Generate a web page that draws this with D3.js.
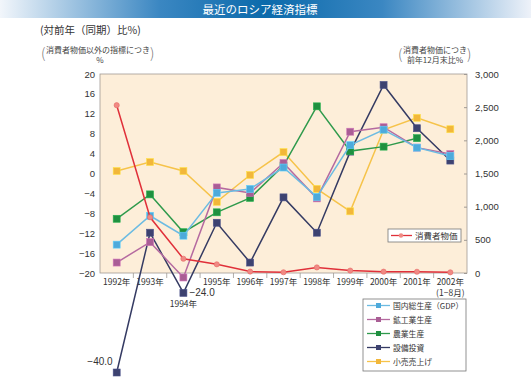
<!DOCTYPE html>
<html>
<head>
<meta charset="utf-8">
<script src="https://cdn.jsdelivr.net/npm/d3@7"></script>
<style>
body { margin: 0; background: #fff; }
svg { display: block; font-family: "Noto Sans CJK JP", "Noto Sans", sans-serif; }
</style>
</head>
<body>
<svg width="531" height="387"></svg>
<script>
var years = ["1992", "1993", "1994", "1995", "1996", "1997", "1998", "1999", "2000", "2001", "2002"];
var yearLabels = ["1992年", "1993年", "1994年", "1995年", "1996年", "1997年", "1998年", "1999年", "2000年", "2001年", "2002年"];
var leftTicks = [-20, -16, -12, -8, -4, 0, 4, 8, 12, 16, 20];
var rightTicks = [0, 500, 1000, 1500, 2000, 2500, 3000];

// 消費者物価 (右軸)
var cpi = [2530, 840, 215, 131, 21.8, 11, 84.4, 36.5, 20.2, 18.6, 10];
// 左軸
var gdp = [-14.3, -8.5, -12.5, -3.9, -3.1, 1.2, -4.7, 5.7, 8.8, 5.2, 3.5];
var industry = [-17.9, -13.8, -20.9, -2.8, -3.9, 2.1, -5.0, 8.4, 9.3, 5.2, 3.9];
var agriculture = [-9.1, -4.2, -11.8, -7.8, -4.9, 1.6, 13.5, 4.5, 5.4, 7.1, null];
var investment = [-40.0, -11.9, -24.0, -9.9, -17.9, -4.8, -11.9, 4.4, 17.8, 9.1, 2.6];
var retail = [0.5, 2.3, 0.5, -5.7, -0.3, 4.3, -3.1, -7.6, 8.8, 11.2, 8.9];

var svg = d3.select("svg");
var plotLeft = 100, plotRight = 467, plotTop = 74, plotBottom = 273;

// title bar
var defs = svg.append("defs");
var grad = defs.append("linearGradient").attr("id", "bar");
grad.append("stop").attr("offset", "0%").attr("stop-color", "#f2f6fb");
grad.append("stop").attr("offset", "30%").attr("stop-color", "#3b87c2");
grad.append("stop").attr("offset", "50%").attr("stop-color", "#0b6aab");
grad.append("stop").attr("offset", "72%").attr("stop-color", "#3b87c2");
grad.append("stop").attr("offset", "100%").attr("stop-color", "#eef2f9");
svg.append("rect").attr("x", 0).attr("y", 0).attr("width", 531).attr("height", 18).attr("fill", "url(#bar)");
svg.append("text").attr("x", 260).attr("y", 13.5).attr("text-anchor", "middle")
    .attr("fill", "#fff").attr("font-size", 11.5).text("最近のロシア経済指標");

svg.append("text").attr("x", 40).attr("y", 34).attr("font-size", 10.5).attr("fill", "#333").text("(対前年（同期）比%)");
svg.append("text").attr("x", 46).attr("y", 53).attr("font-size", 8).attr("fill", "#444").text("消費者物価以外の指標につき");
svg.append("text").attr("x", 100).attr("y", 63).attr("font-size", 8).attr("fill", "#444").attr("text-anchor", "middle").text("%");
svg.append("text").attr("x", 41).attr("y", 58).attr("font-size", 14).attr("fill", "#777").attr("font-weight", 200).text("(");
svg.append("text").attr("x", 150).attr("y", 58).attr("font-size", 14).attr("fill", "#777").attr("font-weight", 200).text(")");
svg.append("text").attr("x", 435).attr("y", 53).attr("font-size", 8).attr("fill", "#444").attr("text-anchor", "middle").text("消費者物価につき");
svg.append("text").attr("x", 435).attr("y", 63).attr("font-size", 8).attr("fill", "#444").attr("text-anchor", "middle").text("前年12月末比%");
svg.append("text").attr("x", 398).attr("y", 59).attr("font-size", 14).attr("fill", "#777").attr("font-weight", 200).text("(");
svg.append("text").attr("x", 467).attr("y", 59).attr("font-size", 14).attr("fill", "#777").attr("font-weight", 200).text(")");

var x = d3.scalePoint().domain(years).range([plotLeft, plotRight]).padding(0.5);
var y = d3.scaleLinear().domain([-20, 20]).range([plotBottom, plotTop]);
var yr = d3.scaleLinear().domain([0, 3000]).range([plotBottom, plotTop]);
var step = x.step();

svg.append("rect").attr("x", plotLeft).attr("y", plotTop).attr("width", plotRight - plotLeft).attr("height", plotBottom - plotTop)
    .attr("fill", "#fdeed9").attr("stroke", "#a09a94").attr("stroke-width", 0.8);

function fmt(d) { return (d < 0 ? "−" : "") + Math.abs(d); }

var gl = svg.append("g").attr("transform", "translate(" + plotLeft + ",0)")
    .call(d3.axisLeft(y).tickValues(leftTicks).tickSize(0).tickPadding(5).tickFormat(fmt));
gl.select(".domain").remove();
gl.selectAll("text").attr("font-size", 9.5).attr("fill", "#333").attr("font-family", "Liberation Sans, sans-serif");

var gr = svg.append("g").attr("transform", "translate(" + plotRight + ",0)")
    .call(d3.axisRight(yr).tickValues(rightTicks).tickSize(-3).tickPadding(8).tickFormat(d3.format(",")));
gr.select(".domain").remove();
gr.selectAll("line").attr("stroke", "#a09a94");
gr.selectAll("text").attr("font-size", 9.5).attr("fill", "#333").attr("font-family", "Liberation Sans, sans-serif");

// x ticks at category boundaries
svg.append("g").selectAll("line").data(years.slice(1)).enter().append("line")
    .attr("x1", function (d) { return x(d) - step / 2; })
    .attr("x2", function (d) { return x(d) - step / 2; })
    .attr("y1", plotBottom).attr("y2", plotBottom + 5)
    .attr("stroke", "#a09a94").attr("stroke-width", 0.8);

svg.append("g").selectAll("text").data(years).enter().append("text")
    .attr("x", function (d) { return x(d); })
    .attr("y", function (d) { return d === "1994" ? 307 : 285; })
    .attr("text-anchor", "middle").attr("font-size", 8.5).attr("fill", "#333")
    .text(function (d, i) { return yearLabels[i]; });
svg.append("text").attr("x", x("2002")).attr("y", 296).attr("text-anchor", "middle")
    .attr("font-size", 8.5).attr("fill", "#333").text("(1−8月)");

var series = [
    { name: "小売売上げ", values: retail, line: "#f6c34a", fill: "#f2b73a" },
    { name: "設備投資", values: investment, line: "#353b63", fill: "#3d4270" },
    { name: "農業生産", values: agriculture, line: "#2f9a4c", fill: "#1f9040" },
    { name: "鉱工業生産", values: industry, line: "#b56aa0", fill: "#a95e95" },
    { name: "国内総生産（GDP）", values: gdp, line: "#6cbbe2", fill: "#4eaadb" }
];

var line = d3.line()
    .defined(function (d) { return d.v !== null; })
    .x(function (d) { return x(d.year); })
    .y(function (d) { return y(d.v); });

series.forEach(function (s) {
    var pts = years.map(function (yv, i) { return { year: yv, v: s.values[i] }; });
    svg.append("path").datum(pts).attr("d", line).attr("fill", "none")
        .attr("stroke", s.line).attr("stroke-width", 1.5);
    svg.append("g").selectAll("rect").data(pts.filter(function (d) { return d.v !== null; }))
        .enter().append("rect")
        .attr("x", function (d) { return x(d.year) - 3.5; })
        .attr("y", function (d) { return y(d.v) - 3.5; })
        .attr("width", 7).attr("height", 7)
        .attr("fill", s.fill).attr("stroke", d3.color(s.fill).brighter(0.6)).attr("stroke-width", 0.6);
});

// CPI
var cpiPts = years.map(function (yv, i) { return { year: yv, v: cpi[i] }; });
svg.append("path").datum(cpiPts)
    .attr("d", d3.line().x(function (d) { return x(d.year); }).y(function (d) { return yr(d.v); }))
    .attr("fill", "none").attr("stroke", "#e0303a").attr("stroke-width", 1.5);
svg.append("g").selectAll("circle").data(cpiPts).enter().append("circle")
    .attr("cx", function (d) { return x(d.year); })
    .attr("cy", function (d) { return yr(d.v); })
    .attr("r", 2.6).attr("fill", "#f08a84").attr("stroke", "#e86a66").attr("stroke-width", 0.6);

// value labels for off-scale points
svg.append("text").attr("x", x("1992") - 4).attr("y", y(-40) - 8).attr("text-anchor", "end")
    .attr("font-size", 10).attr("fill", "#333").attr("font-family", "Liberation Sans, sans-serif").text("−40.0");
svg.append("text").attr("x", x("1994") + 6).attr("y", y(-24) + 3.5)
    .attr("font-size", 10).attr("fill", "#333").attr("font-family", "Liberation Sans, sans-serif").text("−24.0");

// CPI legend
var lg1 = svg.append("g");
lg1.append("rect").attr("x", 388).attr("y", 229).attr("width", 73).attr("height", 13)
    .attr("fill", "#fff").attr("stroke", "#777").attr("stroke-width", 0.8);
lg1.append("line").attr("x1", 391).attr("x2", 412).attr("y1", 235.5).attr("y2", 235.5)
    .attr("stroke", "#e0303a").attr("stroke-width", 1.3);
lg1.append("circle").attr("cx", 401).attr("cy", 235.5).attr("r", 2.2).attr("fill", "#f08a84");
lg1.append("text").attr("x", 415).attr("y", 239).attr("font-size", 8.5).attr("fill", "#333").text("消費者物価");

// series legend
var legendOrder = series.slice().reverse();
var lg2 = svg.append("g");
lg2.append("rect").attr("x", 363).attr("y", 299).attr("width", 103).attr("height", 72)
    .attr("fill", "#fff").attr("stroke", "#777").attr("stroke-width", 0.8);
var items = lg2.selectAll("g.item").data(legendOrder).enter().append("g")
    .attr("transform", function (d, i) { return "translate(0," + (305.5 + i * 14) + ")"; });
items.append("line").attr("x1", 367).attr("x2", 390).attr("y1", 0).attr("y2", 0)
    .attr("stroke", function (d) { return d.line; }).attr("stroke-width", 1.3);
items.append("rect").attr("x", 376).attr("y", -2.5).attr("width", 5).attr("height", 5)
    .attr("fill", function (d) { return d.fill; });
items.append("text").attr("x", 393).attr("y", 3).attr("font-size", 7.8).attr("fill", "#333")
    .text(function (d) { return d.name; });
</script>
</body>
</html>
